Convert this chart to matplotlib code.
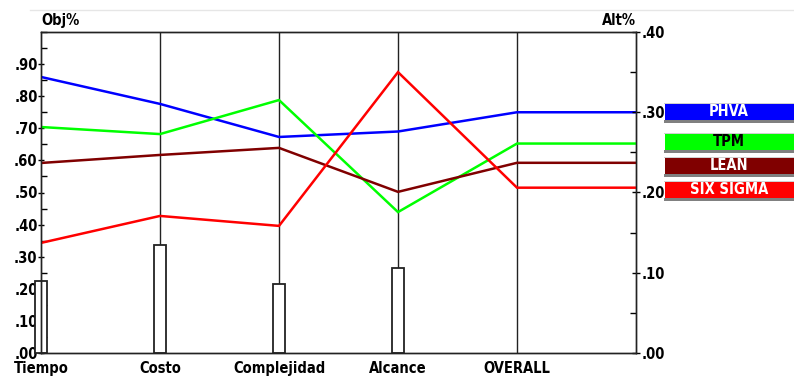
import matplotlib
matplotlib.use("Agg")
import matplotlib.pyplot as plt
from matplotlib.patches import Rectangle
from matplotlib.ticker import MultipleLocator, FuncFormatter

# criteria along the x axis
criteria = ["Tiempo", "Costo", "Complejidad", "Alcance", "OVERALL"]
# criteria weights (Obj%)
weights = [0.225, 0.335, 0.214, 0.264]

# alternative scores per criterion (Obj% scale)
phva = [0.860, 0.776, 0.673, 0.690]
tpm = [0.704, 0.682, 0.788, 0.439]
lean = [0.592, 0.617, 0.639, 0.502]
six_sigma = [0.343, 0.427, 0.396, 0.875]

# overall result (Alt% scale)
overall = [0.300, 0.261, 0.237, 0.206]

names = ["PHVA", "TPM", "LEAN", "SIX SIGMA"]
colors = ["#0000ff", "#00ff00", "#800000", "#ff0000"]
text_colors = ["white", "black", "white", "white"]

plt.rcParams["font.family"] = ["DejaVu Sans"]
plt.rcParams["font.stretch"] = "condensed"
plt.rcParams["font.weight"] = "bold"
FS = 10.5

fig = plt.figure(figsize=(7.94, 3.85), dpi=100)
W, H = 794, 385
ax = fig.add_axes([41 / W, 1 - 353 / H, (636 - 41) / W, (353 - 32) / H])
ax2 = ax.twinx()

ax.set_xlim(0, 5)
ax.set_ylim(0, 1.0)
ax2.set_ylim(0, 0.4)

# vertical category lines
for i in range(1, len(criteria)):
    ax.axvline(i, color="#222222", lw=1, zorder=1)

# weight bars
ax.bar(range(len(weights)), weights, width=0.095, facecolor="white",
       edgecolor="#222222", lw=1.3, zorder=2, clip_on=False)

# alternative lines: criteria, then overall (converted to left scale), flat to the right
scale = 1.0 / 0.4
for vals, ov, c in zip([phva, tpm, lean, six_sigma], overall, colors):
    xs = list(range(len(vals))) + [4, 5]
    ys = vals + [ov * scale, ov * scale]
    ax.plot(xs, ys, color=c, lw=1.8, zorder=3, solid_joinstyle="miter")

fmt = FuncFormatter(lambda v, p: ".%02d" % int(round(v * 100)))
ax.set_yticks([i / 10 for i in range(10)])
ax.yaxis.set_minor_locator(MultipleLocator(0.05))
ax.yaxis.set_major_formatter(fmt)
ax2.yaxis.set_major_locator(MultipleLocator(0.1))
ax2.yaxis.set_minor_locator(MultipleLocator(0.05))
ax2.yaxis.set_major_formatter(fmt)

ax.tick_params(axis="y", which="major", direction="inout", length=5, width=1,
               pad=0, labelsize=FS)
ax.tick_params(axis="y", which="minor", direction="in", length=4, width=1)
ax2.tick_params(axis="y", which="major", direction="inout", length=6, width=1,
                pad=1, labelsize=FS)
ax2.tick_params(axis="y", which="minor", direction="in", length=4, width=1)

ax.set_xticks(range(len(criteria)))
ax.set_xticklabels(criteria, fontsize=FS, fontweight="bold")
ax.tick_params(axis="x", length=0, pad=6)

for a in (ax, ax2):
    for s in a.spines.values():
        s.set_color("#222222")
        s.set_linewidth(1)

ax.text(0, 1.012, "Obj%", transform=ax.transAxes, ha="left", va="bottom",
        fontsize=FS, fontweight="bold")
ax.text(1, 1.012, "Alt%", transform=ax.transAxes, ha="right", va="bottom",
        fontsize=FS, fontweight="bold")

# top separator line
fig.add_artist(plt.Line2D([30 / W, 1], [1 - 10 / H, 1 - 10 / H],
                          color="#e6e6e6", lw=1))

# legend boxes on the right
box_tops = [104, 134, 158, 182]
box_h = 16
for name, c, tc, top in zip(names, colors, text_colors, box_tops):
    fig.add_artist(Rectangle((664 / W, 1 - (top + box_h + 3) / H), 130 / W, 3 / H,
                             transform=fig.transFigure, facecolor="#808080",
                             edgecolor="none"))
    fig.add_artist(Rectangle((664 / W, 1 - top / H), 130 / W, 1.5 / H,
                             transform=fig.transFigure, facecolor="#d0d0d0",
                             edgecolor="none"))
    fig.add_artist(Rectangle((665 / W, 1 - (top + box_h) / H), 129 / W, box_h / H,
                             transform=fig.transFigure, facecolor=c,
                             edgecolor="none"))
    fig.text(729 / W, 1 - (top + box_h / 2) / H, name, ha="center", va="center",
             color=tc, fontsize=FS, fontweight="bold")

fig.savefig("out.png", dpi=100)
